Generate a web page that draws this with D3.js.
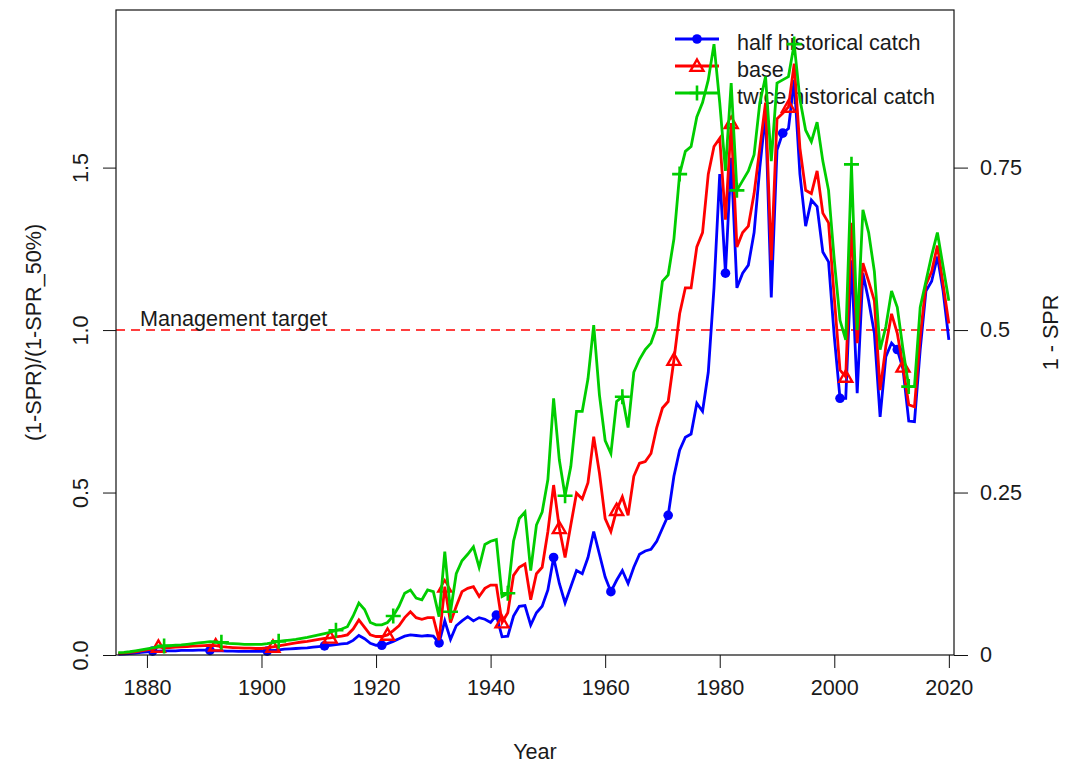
<!DOCTYPE html>
<html lang="en">
<head>
  <meta charset="utf-8">
  <title>Relative SPR</title>
  <script src="https://d3js.org/d3.v7.min.js"></script>
  <style>
    body {
      margin: 0;
      background: #fff;
      font-family: 'Liberation Sans', Arial, sans-serif;
    }
    text { fill: #1a1a1a; }
  </style>
</head>
<body>
  <div id="chart"></div>
  <script>
    // Years 1875 - 2020
    var years = d3.range(1875, 2021);

    var halfCatch = [
      0.002, 0.003, 0.004, 0.006, 0.008, 0.010, 0.012, 0.012, 0.013, 0.013,
      0.013, 0.014, 0.014, 0.014, 0.015, 0.015, 0.014, 0.013, 0.013, 0.012,
      0.012, 0.011, 0.011, 0.011, 0.011, 0.011, 0.012, 0.014, 0.016, 0.018,
      0.019, 0.020, 0.021, 0.022, 0.024, 0.026, 0.028, 0.030, 0.032, 0.034,
      0.036, 0.045, 0.060, 0.050, 0.036, 0.030, 0.030, 0.035, 0.042, 0.050,
      0.058, 0.062, 0.060, 0.058, 0.060, 0.058, 0.037, 0.105, 0.048, 0.090,
      0.105, 0.118, 0.105, 0.115, 0.110, 0.100, 0.123, 0.056, 0.058, 0.120,
      0.150, 0.152, 0.092, 0.130, 0.150, 0.200, 0.300, 0.220, 0.160, 0.210,
      0.260, 0.250, 0.300, 0.380, 0.310, 0.240, 0.195, 0.230, 0.260, 0.220,
      0.270, 0.310, 0.320, 0.325, 0.350, 0.390, 0.430, 0.550, 0.630, 0.670,
      0.680, 0.775, 0.750, 0.870, 1.130, 1.480, 1.175, 1.530, 1.130, 1.175,
      1.200, 1.300, 1.500, 1.667, 1.100, 1.554, 1.606, 1.620, 1.770, 1.480,
      1.320, 1.400, 1.380, 1.240, 1.210, 0.980, 0.790, 0.790, 1.215, 0.806,
      1.175, 1.090, 0.990, 0.733, 0.918, 0.960, 0.940, 0.880, 0.720, 0.718,
      0.940, 1.120, 1.150, 1.226, 1.120, 0.970
    ];

    var base = [
      0.004, 0.006, 0.008, 0.010, 0.013, 0.016, 0.018, 0.025, 0.022, 0.023,
      0.024, 0.025, 0.026, 0.027, 0.028, 0.029, 0.030, 0.029, 0.026, 0.024,
      0.023, 0.022, 0.021, 0.021, 0.020, 0.020, 0.022, 0.025, 0.028, 0.031,
      0.034, 0.037, 0.040, 0.042, 0.045, 0.048, 0.051, 0.053, 0.056, 0.058,
      0.062, 0.080, 0.108, 0.085, 0.062, 0.057, 0.057, 0.062, 0.075, 0.090,
      0.115, 0.133, 0.115, 0.110, 0.115, 0.115, 0.046, 0.210, 0.100, 0.150,
      0.195, 0.205, 0.210, 0.180, 0.205, 0.215, 0.215, 0.100, 0.130, 0.245,
      0.270, 0.280, 0.170, 0.250, 0.270, 0.380, 0.523, 0.390, 0.300, 0.400,
      0.498, 0.480, 0.530, 0.672, 0.560, 0.420, 0.380, 0.446, 0.487, 0.430,
      0.550, 0.590, 0.595, 0.620, 0.700, 0.760, 0.780, 0.908, 1.050, 1.130,
      1.130, 1.256, 1.300, 1.480, 1.565, 1.590, 1.340, 1.637, 1.256, 1.300,
      1.320, 1.420, 1.560, 1.700, 1.215, 1.650, 1.667, 1.687, 1.820, 1.560,
      1.430, 1.420, 1.490, 1.360, 1.330, 1.100, 0.877, 0.856, 1.330, 0.960,
      1.206, 1.150, 1.090, 0.815, 0.950, 1.050, 0.990, 0.887, 0.770, 0.764,
      0.980, 1.140, 1.180, 1.260, 1.140, 1.020
    ];

    var twiceCatch = [
      0.007, 0.008, 0.010, 0.013, 0.016, 0.019, 0.022, 0.025, 0.028, 0.029,
      0.030, 0.031, 0.033, 0.035, 0.037, 0.039, 0.041, 0.040, 0.039, 0.036,
      0.035, 0.034, 0.033, 0.033, 0.033, 0.033, 0.035, 0.038, 0.042, 0.044,
      0.046, 0.048, 0.051, 0.054, 0.058, 0.062, 0.066, 0.070, 0.076, 0.080,
      0.087, 0.120, 0.160, 0.140, 0.100, 0.093, 0.093, 0.100, 0.120, 0.150,
      0.190, 0.200, 0.175, 0.170, 0.200, 0.195, 0.118, 0.318, 0.133, 0.250,
      0.290, 0.310, 0.333, 0.270, 0.340, 0.350, 0.355, 0.180, 0.190, 0.350,
      0.420, 0.440, 0.260, 0.400, 0.440, 0.540, 0.790, 0.600, 0.490, 0.580,
      0.750, 0.750, 0.850, 1.015, 0.800, 0.660, 0.620, 0.780, 0.795, 0.700,
      0.870, 0.910, 0.940, 0.960, 1.010, 1.150, 1.170, 1.280, 1.480, 1.550,
      1.565, 1.656, 1.700, 1.770, 1.880, 1.700, 1.490, 1.760, 1.430, 1.460,
      1.490, 1.540, 1.700, 1.780, 1.520, 1.760, 1.770, 1.780, 1.880, 1.710,
      1.615, 1.580, 1.640, 1.520, 1.430, 1.215, 1.030, 0.970, 1.510, 1.000,
      1.370, 1.300, 1.180, 0.940, 1.010, 1.120, 1.070, 0.940, 0.826, 0.826,
      1.070, 1.150, 1.230, 1.300, 1.195, 1.090
    ];

    // years that carry a point symbol (staggered per series)
    var halfMarks = [1881, 1891, 1901, 1911, 1921, 1931, 1941, 1951, 1961, 1971, 1981, 1991, 2001, 2011];
    var baseMarks = [1882, 1892, 1902, 1912, 1922, 1932, 1942, 1952, 1962, 1972, 1982, 1992, 2002, 2012];
    var twiceMarks = [1883, 1893, 1903, 1913, 1923, 1933, 1943, 1953, 1963, 1973, 1983, 1993, 2003, 2013];

    var seriesNames = ["half historical catch", "base", "twice historical catch"];
    var seriesColors = ["#0000ff", "#ff0000", "#00cd00"];
    var seriesSymbols = ["circle", "triangle", "plus"];

    var xTicks = [1880, 1900, 1920, 1940, 1960, 1980, 2000, 2020];
    var yTicks = [0, 0.5, 1.0, 1.5];
    var rightTicks = [0, 0.25, 0.5, 0.75];
    var targetLevel = 1.0;

    var W = 1066, H = 767;
    var margin = { top: 10, right: 112, bottom: 112, left: 116 };
    var width = W - margin.left - margin.right;
    var height = H - margin.top - margin.bottom;
    var fontSize = "21.6px";

    var svg = d3.select("#chart").append("svg")
      .attr("width", W)
      .attr("height", H)
      .style("font-family", "'Liberation Sans', Arial, sans-serif")
      .style("font-size", fontSize);

    var x = d3.scaleLinear().domain([1874.6, 2020.9]).range([margin.left, margin.left + width]);
    var y = d3.scaleLinear().domain([0, 1.985]).range([margin.top + height, margin.top]);
    // right axis: 1 - SPR is half the ratio
    var y2 = d3.scaleLinear().domain([0, 1.985 / 2]).range([margin.top + height, margin.top]);

    // axes
    var xAxis = svg.append("g")
      .attr("transform", "translate(0," + (margin.top + height) + ")")
      .call(d3.axisBottom(x).tickValues(xTicks).tickFormat(d3.format("d")).tickSize(13).tickPadding(12));
    xAxis.select(".domain").remove();

    var yAxis = svg.append("g")
      .attr("transform", "translate(" + margin.left + ",0)")
      .call(d3.axisLeft(y).tickValues(yTicks).tickFormat(d3.format(".1f")).tickSize(13));
    yAxis.select(".domain").remove();
    yAxis.selectAll(".tick text")
      .attr("transform", "rotate(-90)")
      .attr("x", 0).attr("y", -36)
      .attr("dy", "0.35em")
      .style("text-anchor", "middle");

    var rAxis = svg.append("g")
      .attr("transform", "translate(" + (margin.left + width) + ",0)")
      .call(d3.axisRight(y2).tickValues(rightTicks).tickFormat(function (d) { return String(d); }).tickSize(14).tickPadding(12));
    rAxis.select(".domain").remove();

    svg.selectAll(".tick line").attr("stroke", "#111");
    svg.selectAll(".tick text").style("font-size", fontSize).attr("fill", "#1a1a1a");

    // axis titles
    svg.append("text")
      .attr("x", 535).attr("y", 751)
      .attr("dy", "0.35em")
      .style("text-anchor", "middle")
      .text("Year");

    svg.append("text")
      .attr("transform", "translate(33," + (margin.top + height / 2) + ") rotate(-90)")
      .attr("dy", "0.35em")
      .style("text-anchor", "middle")
      .text("(1-SPR)/(1-SPR_50%)");

    svg.append("text")
      .attr("transform", "translate(1050," + (margin.top + height / 2) + ") rotate(-90)")
      .attr("dy", "0.35em")
      .style("text-anchor", "middle")
      .text("1 - SPR");

    // management target
    svg.append("line")
      .attr("x1", margin.left).attr("x2", margin.left + width)
      .attr("y1", y(targetLevel)).attr("y2", y(targetLevel))
      .attr("stroke", "#ff0000")
      .attr("stroke-width", 1.5)
      .attr("stroke-dasharray", "9,6");

    svg.append("text")
      .attr("x", 140).attr("y", y(targetLevel) - 4)
      .text("Management target");

    // legend (drawn before the lines, the lines cross over it)
    var legend = svg.append("g");
    seriesNames.forEach(function (name, i) {
      var ly = 39 + i * 27;
      legend.append("line")
        .attr("x1", 675).attr("x2", 719)
        .attr("y1", ly).attr("y2", ly)
        .attr("stroke", seriesColors[i])
        .attr("stroke-width", 2.8);
      drawSymbol(legend, seriesSymbols[i], 697, ly, seriesColors[i]);
      legend.append("text")
        .attr("x", 737).attr("y", ly + 3)
        .attr("dy", "0.35em")
        .text(name);
    });

    // series
    var allSeries = [halfCatch, base, twiceCatch];
    var allMarks = [halfMarks, baseMarks, twiceMarks];

    var line = d3.line()
      .x(function (d) { return x(d.year); })
      .y(function (d) { return y(d.value); });

    var plot = svg.append("g");
    allSeries.forEach(function (vals, i) {
      var pts = years.map(function (yr, j) { return { year: yr, value: vals[j] }; });
      plot.append("path")
        .attr("d", line(pts))
        .attr("fill", "none")
        .attr("stroke", seriesColors[i])
        .attr("stroke-width", 2.8)
        .attr("stroke-linejoin", "miter");
      allMarks[i].forEach(function (yr) {
        var v = vals[years.indexOf(yr)];
        drawSymbol(plot, seriesSymbols[i], x(yr), y(v), seriesColors[i]);
      });
    });

    // plot box
    svg.append("rect")
      .attr("x", margin.left).attr("y", margin.top)
      .attr("width", width).attr("height", height)
      .attr("fill", "none")
      .attr("stroke", "#111")
      .attr("stroke-width", 1.2);

    function drawSymbol(g, kind, cx, cy, color) {
      if (kind === "circle") {
        g.append("circle")
          .attr("cx", cx).attr("cy", cy).attr("r", 4.8)
          .attr("fill", color);
      } else if (kind === "triangle") {
        var s = 6.5;
        g.append("path")
          .attr("d", "M" + cx + "," + (cy - s) + "L" + (cx + s) + "," + (cy + s * 0.75) +
            "L" + (cx - s) + "," + (cy + s * 0.75) + "Z")
          .attr("fill", "none")
          .attr("stroke", color)
          .attr("stroke-width", 2.4);
      } else {
        var p = 7.5;
        g.append("path")
          .attr("d", "M" + (cx - p) + "," + cy + "H" + (cx + p) + "M" + cx + "," + (cy - p) + "V" + (cy + p))
          .attr("stroke", color)
          .attr("stroke-width", 2.6);
      }
    }
  </script>
</body>
</html>
